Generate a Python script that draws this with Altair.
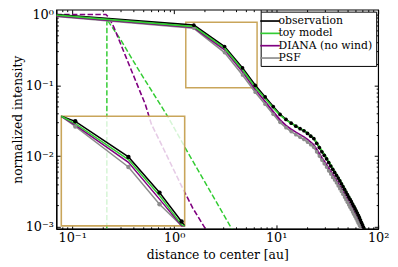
import altair as alt
import pandas as pd

# ---------------- data ----------------
names = ["observation", "toy model", "DIANA (no wind)", "PSF"]
colors = ["#000000", "#33cc33", "#800080", "#8c8c8c"]

r = [0.07, 1.56, 3.12, 4.68, 6.24, 7.80, 9.36, 10.92, 12.48, 14.04, 15.60, 17.16,
     18.72, 20.28, 21.84, 23.40, 24.96, 26.52, 28.08, 29.64, 31.20, 32.76, 34.32,
     35.88, 37.44, 39.00, 40.56, 42.12, 43.68, 45.24, 46.80, 48.36, 49.92, 51.48,
     53.04, 54.60, 56.16, 57.72, 59.28, 60.84, 62.40, 63.96, 65.52, 67.08, 68.64,
     70.20, 71.76, 73.32, 74.88]

obs = [1.0, 0.707, 0.353, 0.176, 0.100, 0.0685, 0.050, 0.0388, 0.0330, 0.0292, 0.0265,
       0.0244, 0.0228, 0.0209, 0.0191, 0.0177, 0.0152, 0.0132, 0.01153, 0.01026,
       0.00916, 0.00812, 0.00725, 0.00651, 0.00589, 0.00536, 0.00489, 0.00446,
       0.00407, 0.00370, 0.00339, 0.00310, 0.00286, 0.00264, 0.00245, 0.00227,
       0.00210, 0.00195, 0.00181, 0.00168, 0.00157, 0.00146, 0.00135, 0.00125,
       0.00115, 0.00107, 0.00099, 0.00093, 0.00087]

toy = [0.98, 0.675, 0.335, 0.166, 0.094, 0.065, 0.048, 0.0378, 0.0325, 0.0291, 0.0266,
       0.0246, 0.0230, 0.0212, 0.0194, 0.0179, 0.0156, 0.0136, 0.0119, 0.0106,
       0.0095, 0.0084, 0.0075, 0.00676, 0.00612, 0.00557, 0.00508, 0.00464,
       0.00423, 0.00386, 0.00353, 0.00323, 0.00297, 0.00275, 0.00255, 0.00236,
       0.00219, 0.00203, 0.00189, 0.00175, 0.00163, 0.00152, 0.00141, 0.00130,
       0.00120, 0.00111, 0.00103, 0.00096, 0.00089]

diana = [0.955, 0.655, 0.318, 0.155, 0.087, 0.059, 0.0425, 0.0325, 0.0272, 0.0240,
         0.0218, 0.0201, 0.0187, 0.0172, 0.0157, 0.0144, 0.0125, 0.0109, 0.0095,
         0.0085, 0.0076, 0.0068, 0.0061, 0.0055, 0.0050, 0.00455, 0.00415, 0.00378,
         0.00345, 0.00315, 0.00288, 0.00264, 0.00243, 0.00224, 0.00207, 0.00192,
         0.00178, 0.00165, 0.00153, 0.00142, 0.00132, 0.00123, 0.00114, 0.00106,
         0.00098, 0.00091, 0.00085, 0.00079, 0.00074]

psf = [0.94, 0.64, 0.29, 0.14, 0.080, 0.054, 0.039, 0.030, 0.0252, 0.0222, 0.0201,
       0.0185, 0.0172, 0.0158, 0.0145, 0.0133, 0.0115, 0.0100, 0.0088, 0.0078,
       0.0070, 0.0062, 0.0056, 0.0050, 0.0046, 0.0042, 0.0038, 0.00347, 0.00317,
       0.00289, 0.00264, 0.00242, 0.00223, 0.00205, 0.00190, 0.00176, 0.00163,
       0.00151, 0.00140, 0.00130, 0.00121, 0.00113, 0.00105, 0.00097, 0.00090,
       0.00084, 0.00078, 0.00073, 0.00068]

# unconvolved models (dashed)
dash_diana_r = [0.07, 0.214, 0.229, 0.256, 0.334, 0.418, 0.523, 0.598, 0.782, 0.978,
                1.222, 1.53, 2.0, 2.14]
dash_diana_I = [1.0, 1.0, 0.910, 0.664, 0.258, 0.117, 0.0532, 0.0283, 0.0129, 0.00664,
                0.00342, 0.00182, 0.00097, 0.00083]
dash_toy_r = [0.2185, 0.219, 0.299, 0.447, 0.875, 1.308, 2.138, 3.497, 3.83]
dash_toy_I = [1e-5, 0.854, 0.440, 0.166, 0.0353, 0.01247, 0.00365, 0.00106, 0.00085]

# zoom window shown in the inset
zoom_r = [1.3, 6.5]
zoom_I = [0.092, 0.78]

x_ticks = [0.08, 0.09, 0.1, 0.2, 0.3, 0.4, 0.5, 0.6, 0.7, 0.8, 0.9, 1, 2, 3, 4, 5, 6, 7,
           8, 9, 10, 20, 30, 40, 50, 60, 70, 80, 90, 100]
y_ticks = [0.001, 0.002, 0.003, 0.004, 0.005, 0.006, 0.007, 0.008, 0.009, 0.01, 0.02,
           0.03, 0.04, 0.05, 0.06, 0.07, 0.08, 0.09, 0.1, 0.2, 0.3, 0.4, 0.5, 0.6, 0.7,
           0.8, 0.9, 1.0]

# ---------------- tables ----------------
rows = []
for name, vals in [("PSF", psf), ("DIANA (no wind)", diana), ("observation", obs),
                   ("toy model", toy)]:
    for i, (ri, vi) in enumerate(zip(r, vals)):
        rows.append({"series": name, "r": ri, "I": vi, "i": i})
df = pd.DataFrame(rows)
df_dd = pd.DataFrame({"r": dash_diana_r, "I": dash_diana_I})
df_dt = pd.DataFrame({"r": dash_toy_r, "I": dash_toy_I})
df_zoom = pd.DataFrame({"r1": [zoom_r[0]], "r2": [zoom_r[1]],
                        "I1": [zoom_I[0]], "I2": [zoom_I[1]]})

GOLD = "#c9a55a"
FONT = "DejaVu Serif"

LOG = "log(datum.value)/LN10"
MAJ = f"abs({LOG} - round({LOG})) < 0.01"
label_expr = (f"!({MAJ}) ? '' : round({LOG}) == -3 ? '10⁻³' : round({LOG}) == -2 ? '10⁻²'"
              f" : round({LOG}) == -1 ? '10⁻¹' : round({LOG}) == 0 ? '10⁰'"
              f" : round({LOG}) == 1 ? '10¹' : '10²'")
# inward ticks (matplotlib style): negative sizes through expressions
tick_in = {"condition": {"test": MAJ, "expr": "-4"}, "expr": "-2"}

xs = alt.Scale(type="log", domain=[0.07, 100])
ys = alt.Scale(type="log", domain=[0.00094, 1.17])

x_axis = alt.Axis(values=x_ticks, labelExpr=label_expr, tickSize=tick_in,
                  labelPadding=7, labelFlush=False, labelOverlap=False,
                  title="distance to center [au]", titlePadding=2)
y_axis = alt.Axis(values=y_ticks, labelExpr=label_expr, tickSize=tick_in,
                  labelPadding=7, labelFlush=False, labelOverlap=False,
                  title="normalized intensity", titlePadding=1)
x_top = alt.Axis(orient="top", values=x_ticks, labels=False, tickSize=tick_in,
                 title=None, domain=False)
y_right = alt.Axis(orient="right", values=y_ticks, labels=False, tickSize=tick_in,
                   title=None, domain=False)

cscale = alt.Scale(domain=names, range=colors)
wscale = alt.Scale(domain=names, range=[1.7, 1.7, 1.7, 2.4])
iwscale = alt.Scale(domain=names, range=[1.5, 1.5, 1.5, 2.0])

# ---------------- main panel ----------------
dash_toy = alt.Chart(df_dt).mark_line(clip=True, strokeDash=[5.5, 2.4], strokeWidth=1.5,
                                      color="#33cc33").encode(
    x=alt.X("r:Q", scale=xs, axis=x_axis), y=alt.Y("I:Q", scale=ys, axis=y_axis))
dash_dia = alt.Chart(df_dd).mark_line(clip=True, strokeDash=[5.5, 2.4], strokeWidth=1.6,
                                      color="#800080").encode(
    x=alt.X("r:Q", scale=xs, axis=x_top), y=alt.Y("I:Q", scale=ys, axis=y_right))
lines = alt.Chart(df).mark_line(clip=True).encode(
    x=alt.X("r:Q", scale=xs, axis=None), y=alt.Y("I:Q", scale=ys, axis=None),
    color=alt.Color("series:N", scale=cscale, sort=names,
                    legend=alt.Legend(title=None)),
    strokeWidth=alt.StrokeWidth("series:N", scale=wscale, legend=None),
    order="i:Q")
pts = alt.Chart(df).mark_circle(clip=True, size=14, opacity=1).encode(
    x=alt.X("r:Q", scale=xs, axis=None), y=alt.Y("I:Q", scale=ys, axis=None),
    fill=alt.Fill("series:N", scale=cscale, legend=None)
).transform_filter(
    alt.FieldOneOfPredicate(field="series", oneOf=["observation", "PSF"])
).transform_filter(alt.FieldGTPredicate(field="r", gt=1))
region = alt.Chart(df_zoom).mark_rect(fillOpacity=0, stroke=GOLD, strokeWidth=1.5).encode(
    x=alt.X("r1:Q", scale=xs, axis=None), x2="r2:Q",
    y=alt.Y("I1:Q", scale=ys, axis=None), y2="I2:Q")

main = alt.layer(dash_toy, dash_dia, region, lines, pts).resolve_axis(
    x="independent", y="independent")

# ---------------- inset ----------------
ixs = alt.Scale(type="log", domain=zoom_r, range=[5, 130], clamp=True)
iys = alt.Scale(type="log", domain=zoom_I, range=[219, 108], clamp=True)

ibg = alt.Chart(df_zoom).mark_rect(fill="white", fillOpacity=0.8, stroke=GOLD,
                                   strokeWidth=1.6).encode(
    x=alt.X("r1:Q", scale=ixs, axis=None), x2="r2:Q",
    y=alt.Y("I1:Q", scale=iys, axis=None), y2="I2:Q")
ilines = alt.Chart(df).mark_line().encode(
    x=alt.X("r:Q", scale=ixs, axis=None), y=alt.Y("I:Q", scale=iys, axis=None),
    color=alt.Color("series:N", scale=cscale, legend=None),
    strokeWidth=alt.StrokeWidth("series:N", scale=iwscale, legend=None),
    order="i:Q")
ipts = alt.Chart(df).mark_circle(size=20, opacity=1).encode(
    x=alt.X("r:Q", scale=ixs, axis=None), y=alt.Y("I:Q", scale=iys, axis=None),
    fill=alt.Fill("series:N", scale=cscale, legend=None)
).transform_filter(
    alt.FieldOneOfPredicate(field="series", oneOf=["observation", "PSF"])
).transform_filter(alt.FieldRangePredicate(field="r", range=zoom_r)
).transform_filter(alt.FieldRangePredicate(field="I", range=zoom_I))

inset = alt.layer(ibg, ilines, ipts)

chart = alt.layer(main, inset).resolve_scale(
    x="independent", y="independent", color="independent", fill="independent",
    strokeWidth="independent"
).properties(
    width=326, height=222,
    autosize=alt.AutoSizeParams(type="none"),
    padding={"left": 49, "top": 0, "right": 12, "bottom": 37},
).configure_view(
    stroke="black", strokeWidth=1.2
).configure_axis(
    grid=False, domainColor="black", domainWidth=1.2, tickColor="black",
    labelColor="black", titleColor="black", labelFont=FONT, titleFont=FONT,
    labelFontSize=13, titleFontSize=12.5, titleFontWeight="normal"
).configure_legend(
    orient="top-right", offset=2, padding=3, fillColor="white", strokeColor="black",
    strokeWidth=1, cornerRadius=0, labelFont=FONT, labelFontSize=11,
    labelColor="black", symbolType="M-1.8,0H1.8", symbolSize=121, symbolStrokeWidth=2,
    rowPadding=0.5, labelOffset=2
)

chart.save("out.html", embed_options={"renderer": "svg", "actions": False})
